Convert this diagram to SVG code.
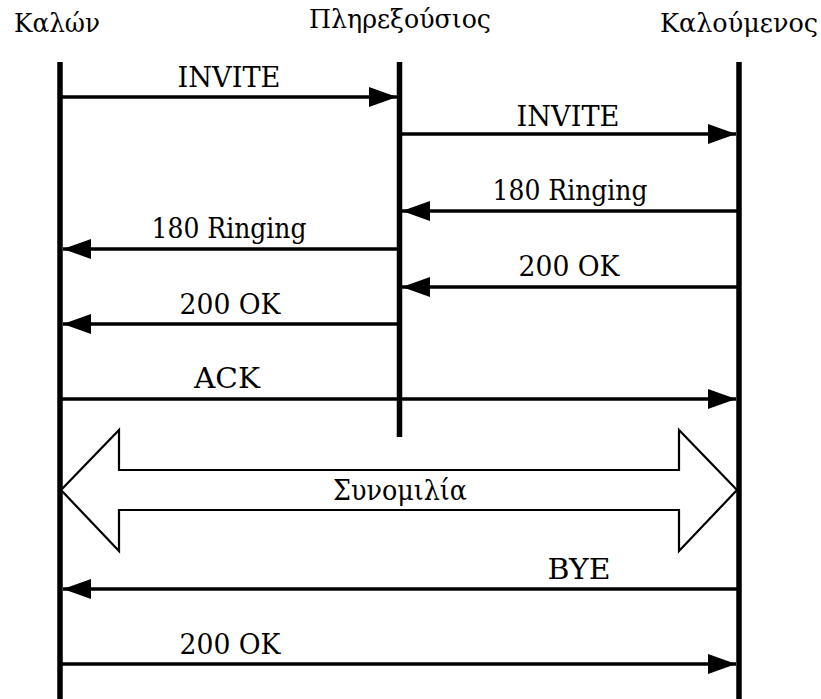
<svg xmlns="http://www.w3.org/2000/svg" width="821" height="699" viewBox="0 0 821 699">
  <style>
    text { font-family: 'DejaVu Serif', serif; fill: #000; text-anchor: middle; }
    .title { font-size: 26px; }
    .label { font-size: 28px; }
    .life { stroke: #000; stroke-width: 5.5; fill: none; }
    .msg { stroke: #000; stroke-width: 3.5; fill: none; }
    .talk { stroke: #000; stroke-width: 2.2; fill: #fff; stroke-linejoin: miter; }
  </style>
  <defs>
    <marker id="head" viewBox="0 0 28 20" refX="28" refY="10" markerUnits="userSpaceOnUse" markerWidth="28" markerHeight="20" orient="auto">
      <path d="M0,0 L28,10 L0,20 Z" fill="#000"/>
    </marker>
  </defs>

  <rect width="821" height="699" fill="#fff"/>

  <!-- participants with their lifelines -->
  <g id="caller">
    <text class="title" x="57" y="32" textLength="86" lengthAdjust="spacingAndGlyphs">Καλών</text>
    <line class="life" x1="60" y1="62" x2="60" y2="699"/>
  </g>
  <g id="proxy">
    <text class="title" x="400" y="28" textLength="182" lengthAdjust="spacingAndGlyphs">Πληρεξούσιος</text>
    <line class="life" x1="399.5" y1="62" x2="399.5" y2="437"/>
  </g>
  <g id="callee">
    <text class="title" x="739" y="32" textLength="158" lengthAdjust="spacingAndGlyphs">Καλούμενος</text>
    <line class="life" x1="739" y1="62" x2="739" y2="699"/>
  </g>

  <!-- conversation band spanning caller and callee -->
  <g id="conversation">
    <polygon class="talk" points="61,490 119,430 119,470 679,470 679,430 737,490 679,551 679,510 119,510 119,551"/>
    <text class="label" x="400" y="500" textLength="134" lengthAdjust="spacingAndGlyphs">Συνομιλία</text>
  </g>

  <!-- messages -->
  <g id="messages">
    <line class="msg" x1="62" y1="97" x2="397" y2="97" marker-end="url(#head)"/>
    <text class="label" x="229" y="87" textLength="103" lengthAdjust="spacingAndGlyphs">INVITE</text>

    <line class="msg" x1="402" y1="134" x2="736" y2="134" marker-end="url(#head)"/>
    <text class="label" x="568" y="126" textLength="103" lengthAdjust="spacingAndGlyphs">INVITE</text>

    <line class="msg" x1="737" y1="211" x2="402" y2="211" marker-end="url(#head)"/>
    <text class="label" x="570" y="200" textLength="155" lengthAdjust="spacingAndGlyphs">180 Ringing</text>

    <line class="msg" x1="398" y1="249" x2="63" y2="249" marker-end="url(#head)"/>
    <text class="label" x="229" y="238" textLength="155" lengthAdjust="spacingAndGlyphs">180 Ringing</text>

    <line class="msg" x1="737" y1="287" x2="402" y2="287" marker-end="url(#head)"/>
    <text class="label" x="569" y="276" textLength="101" lengthAdjust="spacingAndGlyphs">200 OK</text>

    <line class="msg" x1="398" y1="324" x2="63" y2="324" marker-end="url(#head)"/>
    <text class="label" x="230" y="314" textLength="101" lengthAdjust="spacingAndGlyphs">200 OK</text>

    <line class="msg" x1="62" y1="399" x2="736" y2="399" marker-end="url(#head)"/>
    <text class="label" x="227" y="388" textLength="66" lengthAdjust="spacingAndGlyphs">ACK</text>

    <line class="msg" x1="737" y1="589" x2="63" y2="589" marker-end="url(#head)"/>
    <text class="label" x="579" y="579" textLength="63" lengthAdjust="spacingAndGlyphs">BYE</text>

    <line class="msg" x1="62" y1="664" x2="736" y2="664" marker-end="url(#head)"/>
    <text class="label" x="230" y="654" textLength="101" lengthAdjust="spacingAndGlyphs">200 OK</text>
  </g>
</svg>
